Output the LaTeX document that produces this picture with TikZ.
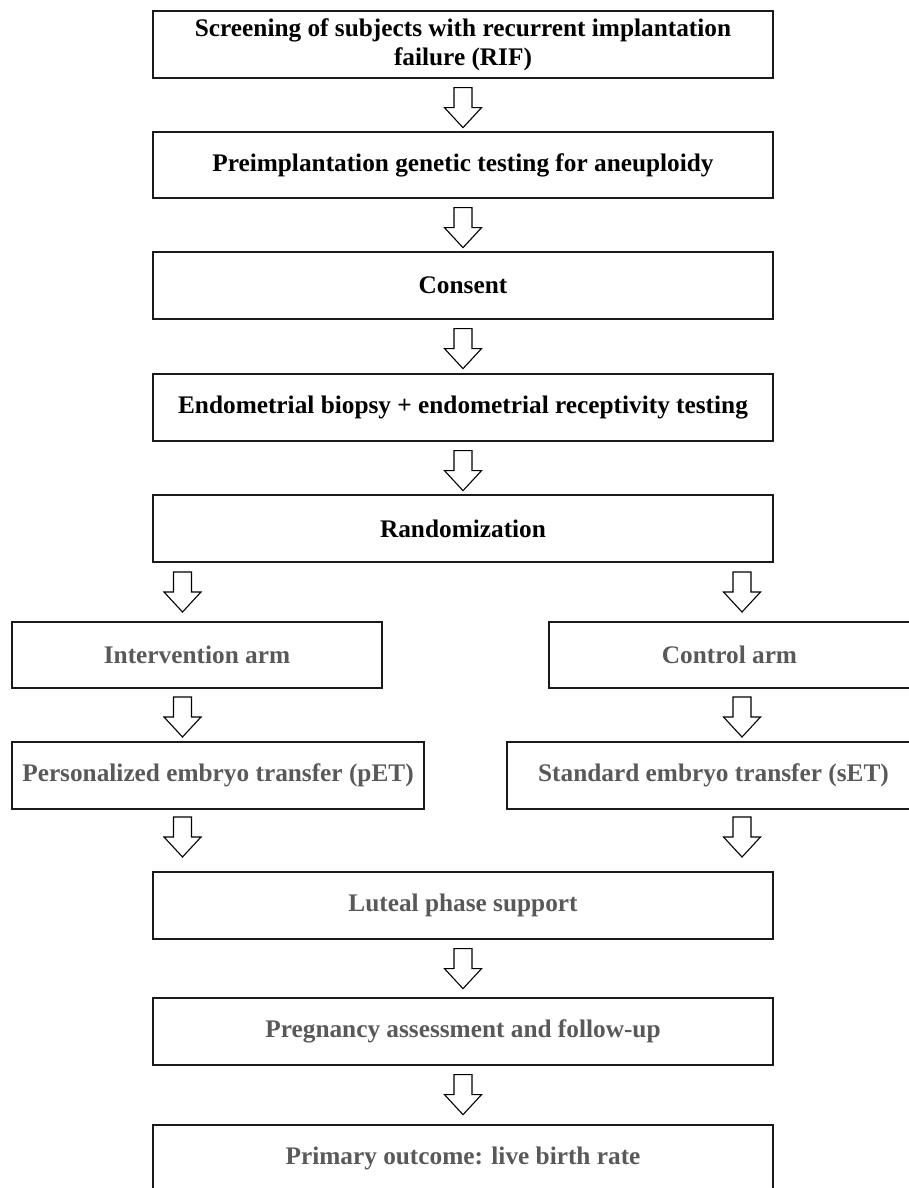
\documentclass[tikz,border=0pt]{standalone}
\usepackage{fontspec}
\setmainfont{Liberation Serif}
\usetikzlibrary{calc}
\definecolor{txtgray}{HTML}{595959}
\definecolor{boxline}{HTML}{1A1A1A}
\tikzset{
  box/.style={draw=boxline, line width=0.65pt, inner sep=0pt, align=center,
    font=\fontsize{12.65}{14.5}\selectfont\bfseries, text=black},
  graybox/.style={box, text=txtgray},
  arrowline/.style={draw=black, line width=0.55pt, fill=white, line join=miter},
  darrow/.pic={\path[arrowline] (-9,0) -- (9,0) -- (9,20) -- (18.5,20) -- (0,40) -- (-18.5,20) -- (-9,20) -- cycle;}
}
\begin{document}
\begin{tikzpicture}[x=0.5pt,y=-0.5pt]
\useasboundingbox (0,0) rectangle (909,1188);
% main boxes (width 620 px = 310pt, height 67 px = 33.5pt)
\node[box, minimum width=310pt, minimum height=33.5pt] (b1) at (463,44.5) {Screening of subjects with recurrent implantation\\failure (RIF)};
\node[box, minimum width=310pt, minimum height=33pt] (b2) at (463,165) {Preimplantation genetic testing for aneuploidy};
\node[box, minimum width=310pt, minimum height=33.5pt] (b3) at (463,285.5) {Consent};
\node[box, minimum width=310pt, minimum height=33.5pt] (b4) at (463,407.5) {Endometrial biopsy + endometrial receptivity testing};
\node[box, minimum width=310pt, minimum height=33.5pt] (b5) at (463,528.5) {Randomization};
% side boxes
\node[graybox, minimum width=185pt, minimum height=33pt] (il) at (197,655) {Intervention arm};
\node[graybox, minimum width=180.5pt, minimum height=33pt] (cr) at (729.5,655) {Control arm};
\node[graybox, minimum width=206pt, minimum height=33.5pt] (pl) at (218,775.5) {Personalized embryo transfer (pET)};
\node[graybox, minimum width=206.5pt, minimum height=33.5pt] (sr) at (713.5,775.5) {Standard embryo transfer (sET)};
% lower boxes
\node[graybox, minimum width=310pt, minimum height=33.5pt] (b6) at (463,905.5) {Luteal phase support};
\node[graybox, minimum width=310pt, minimum height=33.5pt] (b7) at (463,1031.5) {Pregnancy assessment and follow-up};
\node[graybox, minimum width=310pt, minimum height=33.5pt] (b8) at (463,1158.5) {Primary outcome: live birth rate};
% block arrows
\pic at ($(b1.south)+(0,9)$) {darrow};
\pic at ($(b2.south)+(0,9)$) {darrow};
\pic at ($(b3.south)+(0,9)$) {darrow};
\pic at ($(b4.south)+(0,9)$) {darrow};
\pic at (182.5,572) {darrow};
\pic at (742,572) {darrow};
\pic at (182.5,697) {darrow};
\pic at (742,697) {darrow};
\pic at (182.5,817) {darrow};
\pic at (742,817) {darrow};
\pic at ($(b6.south)+(0,9)$) {darrow};
\pic at ($(b7.south)+(0,9)$) {darrow};
\end{tikzpicture}
\end{document}
